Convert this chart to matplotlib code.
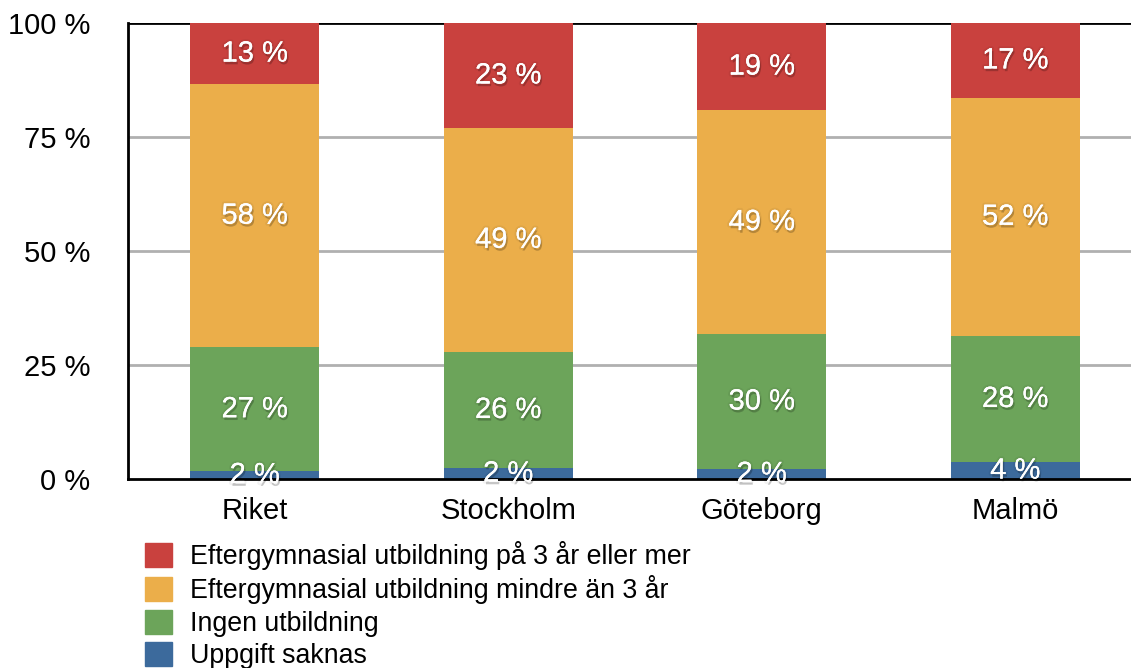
import matplotlib.pyplot as plt
import matplotlib.patheffects as pe
from matplotlib.patches import Patch
import numpy as np

plt.rcParams['font.family'] = ['Liberation Sans', 'DejaVu Sans']

categories = ['Riket', 'Stockholm', 'Göteborg', 'Malmö']
series_names = ['Uppgift saknas', 'Ingen utbildning',
                'Eftergymnasial utbildning mindre än 3 år',
                'Eftergymnasial utbildning på 3 år eller mer']
uppgift_saknas = [1.7, 2.4, 2.2, 3.7]
ingen_utbildning = [27.2, 25.5, 29.6, 27.7]
mindre_an_3 = [57.7, 49.1, 49.1, 52.2]
minst_3 = [13.4, 23.0, 19.1, 16.4]
label_saknas = ['2 %', '2 %', '2 %', '4 %']
label_ingen = ['27 %', '26 %', '30 %', '28 %']
label_mindre = ['58 %', '49 %', '49 %', '52 %']
label_minst = ['13 %', '23 %', '19 %', '17 %']
yticks = [0, 25, 50, 75, 100]
ytick_labels = ['0 %', '25 %', '50 %', '75 %', '100 %']

colors = ['#3C6A9C', '#6CA45A', '#EBAE4A', '#C9413E']

fig = plt.figure(figsize=(11.31, 6.68), dpi=100)
ax = fig.add_axes([128 / 1131, 189 / 668, 1014 / 1131, 456 / 668])

x = np.arange(len(categories))
bottom = np.zeros(len(categories))
# soft dark shadow behind the white value labels
shadow = [pe.withStroke(linewidth=3, foreground=(0, 0, 0, 0.05)),
          pe.SimplePatchShadow(offset=(1, -2), shadow_rgbFace='black', alpha=0.2),
          pe.Normal()]
for vals, labs, col in zip([uppgift_saknas, ingen_utbildning, mindre_an_3, minst_3],
                           [label_saknas, label_ingen, label_mindre, label_minst], colors):
    vals = np.array(vals)
    ax.bar(x, vals, 0.509, bottom=bottom, color=col, zorder=3)
    for xi, b, v, lab in zip(x, bottom, vals, labs):
        ax.text(xi, b + v / 2, lab, ha='center', va='center', color='white',
                fontsize=21, zorder=5, path_effects=shadow)
    bottom = bottom + vals

ax.set_xlim(-0.5, 3.5)
ax.set_ylim(0, 100)
ax.set_yticks(yticks)
ax.set_yticklabels(ytick_labels)
ax.set_xticks(x)
ax.set_xticklabels(categories)
ax.tick_params(axis='y', length=0, pad=27, labelsize=21)
ax.tick_params(axis='x', length=0, pad=13, labelsize=21)
for yv in [25, 50, 75]:
    ax.axhline(yv, color='#B0B0B0', lw=2, zorder=1)
ax.axhline(100, color='black', lw=2, zorder=1)
for s in ['left', 'bottom']:
    ax.spines[s].set_linewidth(2)
    ax.spines[s].set_zorder(4)
ax.spines['right'].set_visible(False)
ax.spines['top'].set_visible(False)

handles = [Patch(color=c) for c in colors[::-1]]
fig.legend(handles, series_names[::-1], loc='upper left',
           bbox_to_anchor=(145 / 1131, 1 - 541 / 668), frameon=False,
           fontsize=19.3, handlelength=1.0, handleheight=1.0,
           labelspacing=0.2, handletextpad=0.67, borderpad=0, borderaxespad=0)

fig.savefig('out.png', dpi=100)
